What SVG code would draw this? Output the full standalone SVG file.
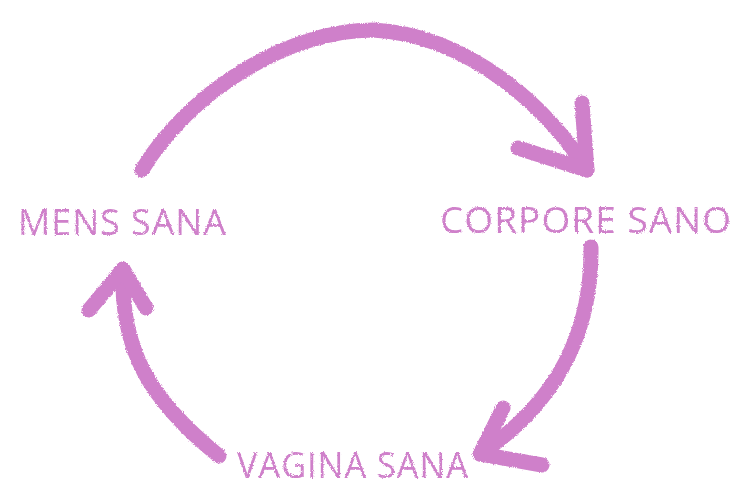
<svg xmlns="http://www.w3.org/2000/svg" width="752" height="488" viewBox="0 0 752 488">
  <defs>
    <filter id="crayon" filterUnits="userSpaceOnUse" x="0" y="0" width="752" height="488">
      <feTurbulence type="fractalNoise" baseFrequency="0.9" numOctaves="2" seed="3" result="noise"/>
      <feDisplacementMap in="SourceGraphic" in2="noise" scale="3" xChannelSelector="R" yChannelSelector="G"/>
    </filter>
  </defs>
  <style>
    .stroke { fill: none; stroke: #cf80ca; stroke-width: 15; stroke-linecap: round; stroke-linejoin: round; }
    .label { font-family: "Open Sans", "Liberation Sans", sans-serif; font-size: 37px; fill: #cf80ca; letter-spacing: 1px; }
  </style>
  <rect width="752" height="488" fill="#ffffff"/>
  <g id="connectors" filter="url(#crayon)">
    <g id="arrow-mens-corpore">
      <path class="stroke" d="M142,170 C190,90 290,30 373,30 C470,35 550,110 587,170"/>
      <path class="stroke" d="M582,103 L587,170 L518,148"/>
    </g>
    <g id="arrow-corpore-vagina">
      <path class="stroke" d="M591,247 C592,330 560,400 480,454"/>
      <path class="stroke" d="M503,408 L480,454 L542,465"/>
    </g>
    <g id="arrow-vagina-mens">
      <path class="stroke" d="M219,456 C150,400 120,350 123,269"/>
      <path class="stroke" d="M89,310 L123,269 L146,308"/>
    </g>
  </g>
  <g id="node-mens-sana" filter="url(#crayon)">
    <text class="label" x="18" y="235" textLength="209" lengthAdjust="spacingAndGlyphs">MENS SANA</text>
  </g>
  <g id="node-corpore-sano" filter="url(#crayon)">
    <text class="label" x="440" y="233" textLength="292" lengthAdjust="spacingAndGlyphs">CORPORE SANO</text>
  </g>
  <g id="node-vagina-sana" filter="url(#crayon)">
    <text class="label" x="237" y="478" textLength="232" lengthAdjust="spacingAndGlyphs">VAGINA SANA</text>
  </g>
</svg>
